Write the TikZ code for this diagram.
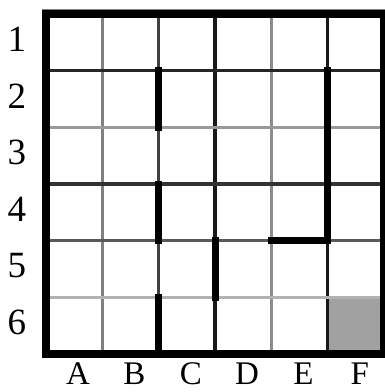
\documentclass[tikz,border=0pt]{standalone}
\usepackage{fontspec}
\setmainfont{Liberation Serif}
\usetikzlibrary{positioning}

\begin{document}
\begin{tikzpicture}[
    x=1pt, y=-1pt,
    font=\fontsize{37}{37}\selectfont,
    gridline/.style={line width=3.2pt},
    wall/.style={line width=7pt, black, line cap=rect},
    border/.style={line width=8pt, black},
    rowlab/.style={inner sep=0pt, anchor=center},
    collab/.style={inner sep=0pt, anchor=center, font=\fontsize{33}{33}\selectfont}
]
    \useasboundingbox (0,0) rectangle (385,392);
    \fill[black!37] (327.7,297.3) rectangle (384,354);
    \foreach \x/\c in {102.3/50, 158.7/75, 215/90, 271.3/45, 327.7/90}
        \draw[gridline, black!\c] (\x,14) -- (\x,354);
    \foreach \y/\c in {70.7/85, 127.3/40, 184/80, 240.7/65, 297.3/30}
        \draw[gridline, black!\c] (46,\y) -- (384,\y);
    \draw[black!50, line width=3pt] (42,10) -- (388,10);
    \draw[border] (46,14) rectangle (384,354);
    \draw[wall] (158.7,70.7) -- (158.7,127.3);
    \draw[wall] (158.7,184) -- (158.7,240.7);
    \draw[wall] (158.7,297.3) -- (158.7,354);
    \draw[wall] (215,240.7) -- (215,297.3);
    \draw[wall] (327.7,70.7) -- (327.7,240.7) -- (271.3,240.7);
    \foreach \n in {1,...,6}
        \node[rowlab] (row\n) at (17,{14+56.67*\n-31.3}) {\n};
    \foreach \l [count=\i] in {A,B,C,D,E,F}
        \node[collab] (col\l) at ({46+56.33*\i-24.2},374) {\l};
\end{tikzpicture}
\end{document}
